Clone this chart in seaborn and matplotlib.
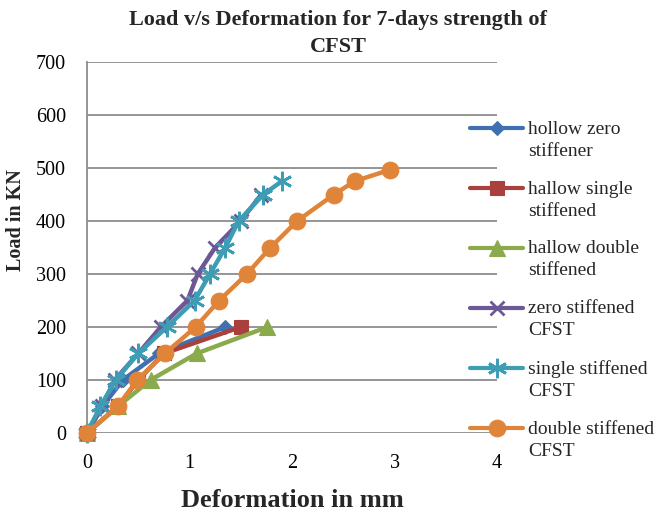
import numpy as np
import pandas as pd
import matplotlib
matplotlib.use("Agg")
import matplotlib.pyplot as plt
import matplotlib.transforms as mtransforms
import seaborn as sns

# ---- data ----
series_names = ["hollow zero\nstiffener", "hallow single\nstiffened", "hallow double\nstiffened",
                "zero stiffened\nCFST", "single stiffened\nCFST", "double stiffened\nCFST"]

hollow_zero_x = [0, 0.15, 0.35, 0.7, 1.35]
hollow_zero_y = [0, 50, 100, 150, 200]

hollow_single_x = [0, 0.3, 0.5, 0.75, 1.5]
hollow_single_y = [0, 50, 100, 150, 200]

hollow_double_x = [0, 0.3, 0.62, 1.07, 1.76]
hollow_double_y = [0, 50, 100, 150, 200]

zero_cfst_x = [0, 0.15, 0.27, 0.5, 0.72, 0.98, 1.08, 1.25, 1.5, 1.7]
zero_cfst_y = [0, 50, 100, 150, 200, 250, 300, 350, 400, 450]

single_cfst_x = [0, 0.13, 0.28, 0.5, 0.78, 1.05, 1.2, 1.35, 1.48, 1.72, 1.9]
single_cfst_y = [0, 50, 100, 150, 200, 250, 300, 350, 400, 450, 475]

double_cfst_x = [0, 0.3, 0.49, 0.76, 1.06, 1.29, 1.56, 1.79, 2.05, 2.41, 2.61, 2.96]
double_cfst_y = [0, 50, 100, 150, 200, 250, 300, 350, 400, 450, 475, 497]

x_ticks = [0, 1, 2, 3, 4]
y_ticks = [0, 100, 200, 300, 400, 500, 600, 700]

all_x = [hollow_zero_x, hollow_single_x, hollow_double_x, zero_cfst_x, single_cfst_x, double_cfst_x]
all_y = [hollow_zero_y, hollow_single_y, hollow_double_y, zero_cfst_y, single_cfst_y, double_cfst_y]

# ---- styles ----
colors = ["#3F70B2", "#AA403D", "#8BAA4B", "#6E5796", "#3D9DB5", "#E0843A"]
markers = ["D", "s", "^", "x", (6, 2, 0), "o"]
msizes = [7, 10, 11, 10, 14, 12]

sns.set_theme(style="white")
plt.rcParams['font.family'] = ['Liberation Serif', 'DejaVu Serif']

fig = plt.figure(figsize=(6.69, 5.17), dpi=100)
ax = fig.add_axes([0.130, 0.1625, 0.613, 0.7175])

for i in range(6):
    df = pd.DataFrame({"x": all_x[i], "y": all_y[i]})
    sns.lineplot(data=df, x="x", y="y", ax=ax, sort=False, color=colors[i],
                 linewidth=3.2, marker=markers[i], markersize=msizes[i],
                 markeredgecolor=colors[i], markeredgewidth=2.0 if i in (3, 4) else 0.8,
                 label=series_names[i], zorder=3 + i, clip_on=False)

ax.set_xlim(0, 4)
ax.set_ylim(0, 700)
ax.set_xticks(x_ticks)
ax.set_yticks(y_ticks)
ax.tick_params(axis="both", length=0, labelsize=14.5, colors="black")
ax.tick_params(axis="y", pad=15)
ax.tick_params(axis="x", pad=15)
ax.yaxis.grid(True, color="#8C8C8C", linewidth=1.3)
ax.xaxis.grid(False)
for s in ["top", "right", "bottom"]:
    ax.spines[s].set_visible(False)
ax.spines["left"].set_color("#8C8C8C")
ax.spines["left"].set_linewidth(1.3)

ax.set_xlabel("Deformation in mm", fontsize=19, fontweight="bold", labelpad=12)
ax.set_ylabel("Load in KN", fontsize=14.5, fontweight="bold")
ax.yaxis.set_label_coords(-0.148, 0.575)
fig.suptitle("Load v/s Deformation for 7-days strength of\nCFST", fontsize=16,
             fontweight="bold", x=0.505, y=0.981, linespacing=1.45)

leg = ax.legend(loc="upper left", bbox_to_anchor=(0.7025, 0.766), bbox_transform=fig.transFigure,
                frameon=False, fontsize=14, handlelength=2.73, handletextpad=0.26,
                labelspacing=1.07, borderpad=0, borderaxespad=0)
for t in leg.get_texts():
    t.set_linespacing(1.38)
fig.canvas.draw()
dy = 11.7
for col in leg._legend_handle_box.get_children():
    for item in col.get_children():
        da = item.get_children()[0]
        for a in da.get_children():
            a.set_transform(a.get_transform() + mtransforms.Affine2D().translate(0, dy))
for line in leg.get_lines():
    line.set_linewidth(3.0)

fig.savefig("out.png", dpi=100)
